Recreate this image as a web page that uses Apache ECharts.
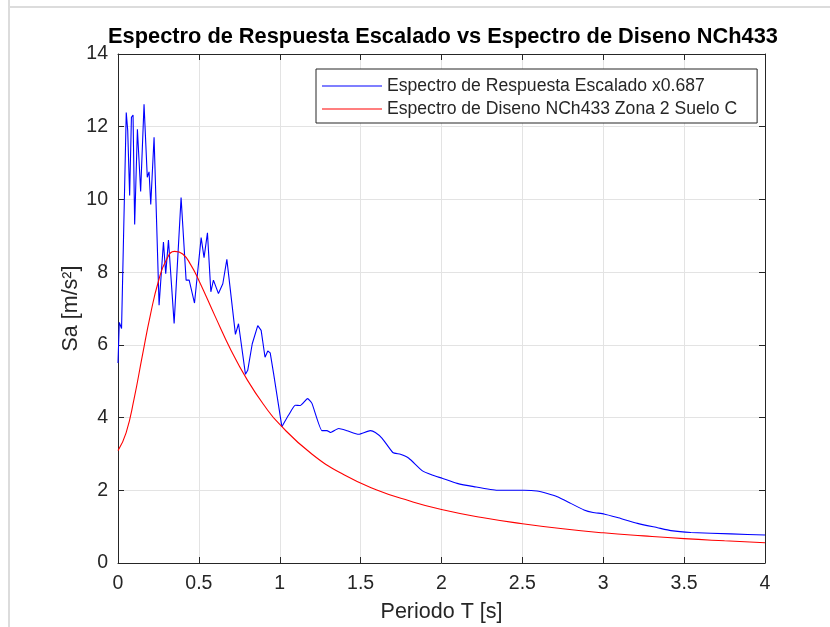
<!DOCTYPE html>
<html>
<head>
<meta charset="utf-8">
<script src="https://cdn.jsdelivr.net/npm/echarts@6/dist/echarts.min.js"></script>
<style>html,body{margin:0;padding:0;background:#fff;}#c{width:830px;height:627px;}</style>
</head>
<body>
<div id="c"></div>
<script>
// Periods (s) and Sa (m/s2) of the scaled response spectrum (blue)
var respT = [0,0.008,0.015,0.022,0.051,0.06,0.072,0.083,0.093,0.103,0.12,0.14,0.161,0.181,0.192,0.2025,0.223,0.254,0.281,0.295,0.312,0.347,0.356,0.39,0.421,0.44,0.473,0.481,0.514,0.532,0.553,0.574,0.59,0.621,0.648,0.673,0.68,0.726,0.745,0.788,0.802,0.83,0.864,0.885,0.909,0.926,0.941,0.962,1.013,1.055,1.096,1.127,1.172,1.199,1.261,1.292,1.313,1.364,1.416,1.488,1.56,1.591,1.633,1.699,1.746,1.798,1.88,1.942,2.004,2.097,2.2,2.345,2.51,2.59,2.654,2.716,2.799,2.881,2.937,3.005,3.088,3.212,3.336,3.418,3.542,3.789,4.0];
var respSa = [5.5,6.62,6.6,6.45,12.39,11.9,10.11,12.26,12.32,9.31,11.93,10.22,12.62,10.61,10.76,9.86,11.71,7.09,8.83,7.96,8.88,6.59,6.6,10.05,7.78,7.78,7.15,7.2,8.95,8.4,9.08,7.46,7.78,7.41,7.68,8.35,8.3,6.29,6.58,5.19,5.3,6.03,6.53,6.4,5.66,5.83,5.78,5.21,3.75,4.07,4.34,4.33,4.52,4.39,3.64,3.64,3.59,3.7,3.64,3.54,3.64,3.59,3.43,3.04,2.99,2.88,2.54,2.42,2.33,2.19,2.1,2.0,2.0,1.98,1.91,1.82,1.64,1.46,1.39,1.35,1.25,1.09,0.97,0.89,0.84,0.8,0.77];
// Design spectrum NCh433 (red)
var designT = [0,0.05,0.1,0.15,0.2,0.25,0.3,0.35,0.4,0.45,0.5,0.6,0.7,0.8,0.9,1.0,1.2,1.4,1.6,1.8,2.0,2.25,2.5,2.75,3.0,3.25,3.5,3.75,4.0];
var designSa = [3.09,3.58,4.53,5.69,6.82,7.75,8.35,8.57,8.5,8.2,7.77,6.79,5.84,5.03,4.36,3.81,2.99,2.42,2.01,1.71,1.47,1.25,1.08,0.94,0.83,0.745,0.67,0.61,0.556];
var xTicks = [0,0.5,1,1.5,2,2.5,3,3.5,4];
var yTicks = [0,2,4,6,8,10,12,14];

var titleText = 'Espectro de Respuesta Escalado vs Espectro de Diseno NCh433';
var name1 = 'Espectro de Respuesta Escalado x0.687';
var name2 = 'Espectro de Diseno NCh433 Zona 2 Suelo C';

function zip(a, b) { return a.map(function (v, i) { return [v, b[i]]; }); }
var respAll = zip(respT, respSa);
var splitIdx = respT.indexOf(1.013);
var respSpiky = respAll.slice(0, splitIdx + 1);
var respTail = respAll.slice(splitIdx);

var FONT = '"Liberation Sans", Arial, Helvetica, sans-serif';
var AX = '#262626';
var GRID = '#e3e3e3';

var chart = echarts.init(document.getElementById('c'), null, { renderer: 'canvas' });
var baseX = {
  type: 'value', min: xTicks[0], max: xTicks[xTicks.length - 1], interval: xTicks[1] - xTicks[0],
  axisLine: { show: true, onZero: false, lineStyle: { color: AX, width: 1 } },
  axisTick: { show: true, inside: true, length: 6, lineStyle: { color: AX } }
};
var baseY = {
  type: 'value', min: yTicks[0], max: yTicks[yTicks.length - 1], interval: yTicks[1] - yTicks[0],
  axisLine: { show: true, onZero: false, lineStyle: { color: AX, width: 1 } },
  axisTick: { show: true, inside: true, length: 6, lineStyle: { color: AX } }
};
chart.setOption({
  animation: false,
  backgroundColor: '#fff',
  textStyle: { fontFamily: FONT },
  title: {
    text: titleText, left: 438, top: 21, textAlign: 'center',
    textStyle: { fontFamily: FONT, fontSize: 21.8, fontWeight: 'bold', color: '#000' }
  },
  graphic: [
    { type: 'line', shape: { x1: 9, y1: 0, x2: 9, y2: 627 }, style: { stroke: '#dcdcdc', lineWidth: 2 } },
    { type: 'line', shape: { x1: 9, y1: 7, x2: 830, y2: 7 }, style: { stroke: '#dcdcdc', lineWidth: 2 } }
  ],
  grid: { left: 118, right: 65, top: 54, bottom: 64, containLabel: false, outerBoundsMode: 'none' },
  legend: {
    orient: 'vertical', left: 316, top: 69,
    data: [
      { name: name1, icon: 'rect', itemStyle: { color: '#0000ff' } },
      { name: name2, icon: 'rect', itemStyle: { color: '#ff0000' } }
    ],
    backgroundColor: '#fff', borderColor: '#262626', borderWidth: 1,
    padding: [7, 20, 4, 6], itemGap: 3, itemWidth: 60, itemHeight: 1.2,
    textStyle: { fontFamily: FONT, fontSize: 17.6, color: AX, lineHeight: 20 }
  },
  xAxis: [
    Object.assign({}, baseX, {
      position: 'bottom',
      name: 'Periodo T [s]', nameLocation: 'middle', nameGap: 38, nameMoveOverlap: false,
      nameTextStyle: { fontFamily: FONT, fontSize: 21.5, color: AX },
      axisLabel: { fontFamily: FONT, fontSize: 19.5, color: AX, margin: 11 },
      splitLine: { show: true, lineStyle: { color: GRID, width: 1 } }
    }),
    Object.assign({}, baseX, {
      position: 'top', axisLabel: { show: false }, splitLine: { show: false }
    })
  ],
  yAxis: [
    Object.assign({}, baseY, {
      position: 'left',
      name: 'Sa [m/s²]', nameLocation: 'middle', nameGap: 36, nameMoveOverlap: false,
      nameTextStyle: { fontFamily: FONT, fontSize: 21.5, color: AX },
      axisLabel: { fontFamily: FONT, fontSize: 19.5, color: AX, margin: 10 },
      splitLine: { show: true, lineStyle: { color: GRID, width: 1 } }
    }),
    Object.assign({}, baseY, {
      position: 'right', axisLabel: { show: false }, splitLine: { show: false }
    })
  ],
  series: [
    {
      name: name1, type: 'line', data: respSpiky,
      symbol: 'none', smooth: false, clip: true,
      lineStyle: { color: '#0000ff', width: 1.1 }, itemStyle: { color: '#0000ff' }
    },
    {
      name: name1, type: 'line', data: respTail,
      symbol: 'none', smooth: 0.15, clip: true,
      lineStyle: { color: '#0000ff', width: 1.1 }, itemStyle: { color: '#0000ff' }
    },
    {
      name: name2, type: 'line', data: zip(designT, designSa),
      symbol: 'none', smooth: true, clip: true,
      lineStyle: { color: '#ff0000', width: 1.1 }, itemStyle: { color: '#ff0000' }
    }
  ]
});
</script>
</body>
</html>
